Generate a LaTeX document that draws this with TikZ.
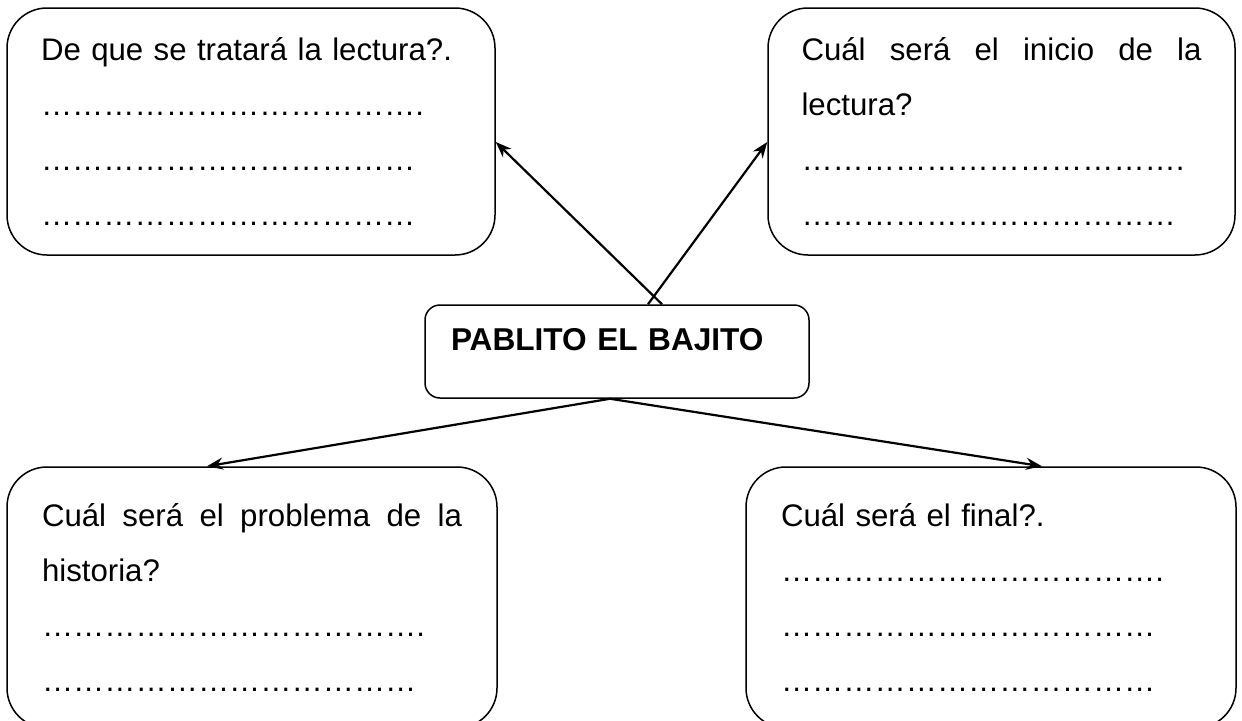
\documentclass[tikz,border=0pt]{standalone}
\usepackage{fontspec}
\setmainfont{Liberation Sans}
\usetikzlibrary{arrows.meta,positioning,calc}
\newcommand{\lecdots}{\foreach\d in {1,...,12}{…}}

\begin{document}
\begin{tikzpicture}[x=1pt,y=1pt,
  lecbox/.style={draw,line width=0.75pt,rounded corners=20pt,inner xsep=0pt,
    minimum width=245pt,text width=210pt,align=left,
    font=\fontsize{15.6}{27.5}\selectfont},
  lectitle/.style={draw,line width=0.75pt,rounded corners=7.5pt,inner xsep=13pt,
    minimum width=192pt,minimum height=46.5pt,text width=166pt,align=left,
    text height=11pt,text depth=12.5pt,font=\fontsize{15.8}{17}\selectfont\bfseries},
  lecarr/.style={-{Stealth[length=8pt,width=6pt]},line width=1.1pt}
]
  \useasboundingbox (0,0) rectangle (621,360);
  \clip (0,0) rectangle (621,360);
  % Preguntas de arriba
  \node[lecbox,minimum width=244pt,minimum height=123.5pt] (tema) at (125.5,294.25) {
    De que se tratará la lectura?.\\
    \lecdots.\\
    \lecdots\\
    \lecdots};
  \node[lecbox,minimum width=233.5pt,minimum height=123.5pt,text width=200pt] (inicio) at (500.75,294.25) {
    \makebox[200pt][s]{Cuál\hfill será\hfill el\hfill inicio\hfill de\hfill la}\\
    lectura?\\
    \lecdots.\\
    \lecdots};
  % Titulo
  \node[lectitle] (titulo) at (308.5,184.25) {PABLITO EL BAJITO};
  % Preguntas de abajo
  \node[lecbox,minimum height=130.5pt] (problema) at (126,61.25) {
    \makebox[210pt][s]{Cuál\hfill será\hfill el\hfill problema\hfill de\hfill la}\\
    historia?\\
    \lecdots.\\
    \lecdots};
  \node[lecbox,minimum height=130.5pt] (final) at (495.5,61.25) {
    Cuál será el final?.\\
    \lecdots.\\
    \lecdots\\
    \lecdots};
  % Flechas
  \draw[lecarr] ([xshift=22.5pt]titulo.north) -- ([yshift=-5.25pt]tema.east);
  \draw[lecarr] ([xshift=15.5pt]titulo.north) -- ([yshift=-5.25pt]inicio.west);
  \draw[lecarr] ([xshift=-3.5pt]titulo.south) -- ([xshift=-22.5pt]problema.north);
  \draw[lecarr] ([xshift=-3.5pt]titulo.south) -- ([xshift=25.5pt]final.north);
\end{tikzpicture}
\end{document}
